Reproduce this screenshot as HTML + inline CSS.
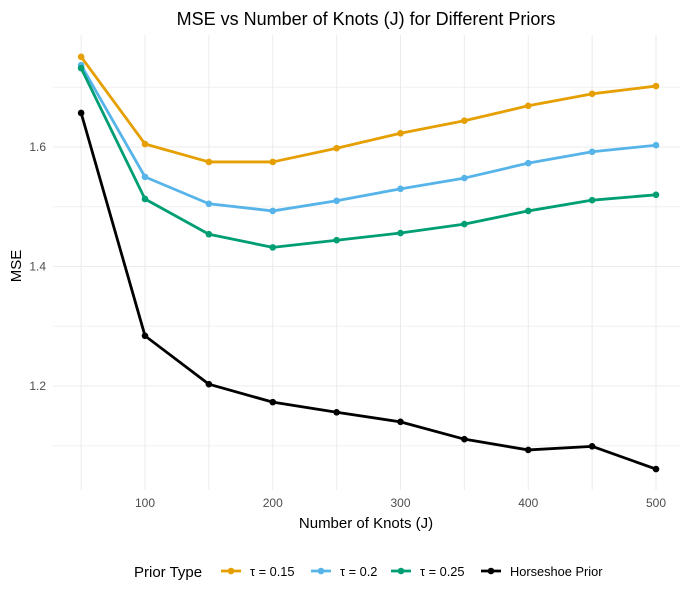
<!DOCTYPE html>
<html><head><meta charset="utf-8"><style>
body{margin:0;background:#fff;font-family:"Liberation Sans",sans-serif}
</style></head><body>
<svg id="chart" width="693" height="599" style="display:block"></svg>
<script>
const knots=[50,100,150,200,250,300,350,400,450,500];
const tau015=[1.751,1.605,1.575,1.575,1.598,1.623,1.644,1.669,1.689,1.702];
const tau02=[1.737,1.550,1.505,1.493,1.510,1.530,1.548,1.573,1.592,1.603];
const tau025=[1.732,1.513,1.454,1.432,1.444,1.456,1.471,1.493,1.511,1.520];
const horseshoe=[1.657,1.284,1.203,1.173,1.156,1.140,1.111,1.093,1.099,1.061];
const xTicks=[100,200,300,400,500];
const xMinor=[50,150,250,350,450];
const yTicks=[1.2,1.4,1.6];
const yMinor=[1.1,1.3,1.5,1.7];
const seriesNames=["τ = 0.15","τ = 0.2","τ = 0.25","Horseshoe Prior"];
const colors=["#E69F00","#56B4E9","#009E73","#000000"];
const series=[tau015,tau02,tau025,horseshoe];

const NS="http://www.w3.org/2000/svg";
const svg=document.getElementById('chart');
const X=v=>145+(v-100)*1.2775;
const Y=v=>147-(v-1.6)*597.5;
const L=53,R=680,T=35,B=490;
function el(t,a,p){const e=document.createElementNS(NS,t);for(const k in a)e.setAttribute(k,a[k]);(p||svg).appendChild(e);return e;}
function txt(s,a){const e=el('text',a);e.textContent=s;return e;}

const grid=el('g',{});


yMinor.forEach(v=>el('line',{x1:L,x2:R,y1:Y(v),y2:Y(v),stroke:'#f0f0f0','stroke-width':1},grid));
xMinor.forEach(v=>el('line',{x1:X(v),x2:X(v),y1:T,y2:B,stroke:'#ebebeb','stroke-width':1},grid));
yTicks.forEach(v=>el('line',{x1:L,x2:R,y1:Y(v),y2:Y(v),stroke:'#ebebeb','stroke-width':1},grid));
xTicks.forEach(v=>el('line',{x1:X(v),x2:X(v),y1:T,y2:B,stroke:'#ebebeb','stroke-width':1},grid));

yTicks.forEach(v=>{const t=txt(v.toFixed(1),{x:46,y:Y(v)+4,'text-anchor':'end','font-size':12,fill:'#4d4d4d'});

});
xTicks.forEach(v=>{const t=txt(String(v),{x:X(v),y:507,'text-anchor':'middle','font-size':12,fill:'#4d4d4d'});

});

series.forEach((s,i)=>{
  const g=el('g',{});
  
  
  el('polyline',{points:s.map((v,j)=>X(knots[j])+','+Y(v)).join(' '),fill:'none',stroke:colors[i],'stroke-width':2.8,'stroke-linejoin':'round'},g);
  s.forEach((v,j)=>{const c=el('circle',{cx:X(knots[j]),cy:Y(v),r:3.3,fill:colors[i]},g);
    
    });
});

const title=txt('MSE vs Number of Knots (J) for Different Priors',{x:366,y:25,'text-anchor':'middle','font-size':18,fill:'#000'});


const xt=txt('Number of Knots (J)',{x:366,y:528,'text-anchor':'middle','font-size':15,fill:'#000'});


const yt=txt('MSE',{x:0,y:0,'text-anchor':'middle','font-size':15,fill:'#000',transform:'translate(21,266) rotate(-90)'});



const lg=el('g',{});


const lt=txt('Prior Type',{x:134,y:577,'font-size':15,fill:'#000'});
lg.appendChild(lt);
const lx=[221,311,391,481];
seriesNames.forEach((n,i)=>{
  const g=el('g',{},lg);
  
  
  el('line',{x1:lx[i],x2:lx[i]+20,y1:571,y2:571,stroke:colors[i],'stroke-width':2.8},g);
  el('circle',{cx:lx[i]+10,cy:571,r:3.3,fill:colors[i]},g);
  const t=document.createElementNS(NS,'text');
  t.setAttribute('x',lx[i]+29);t.setAttribute('y',576);t.setAttribute('font-size',12.8);
  t.textContent=n;g.appendChild(t);
});
</script>
</body></html>
